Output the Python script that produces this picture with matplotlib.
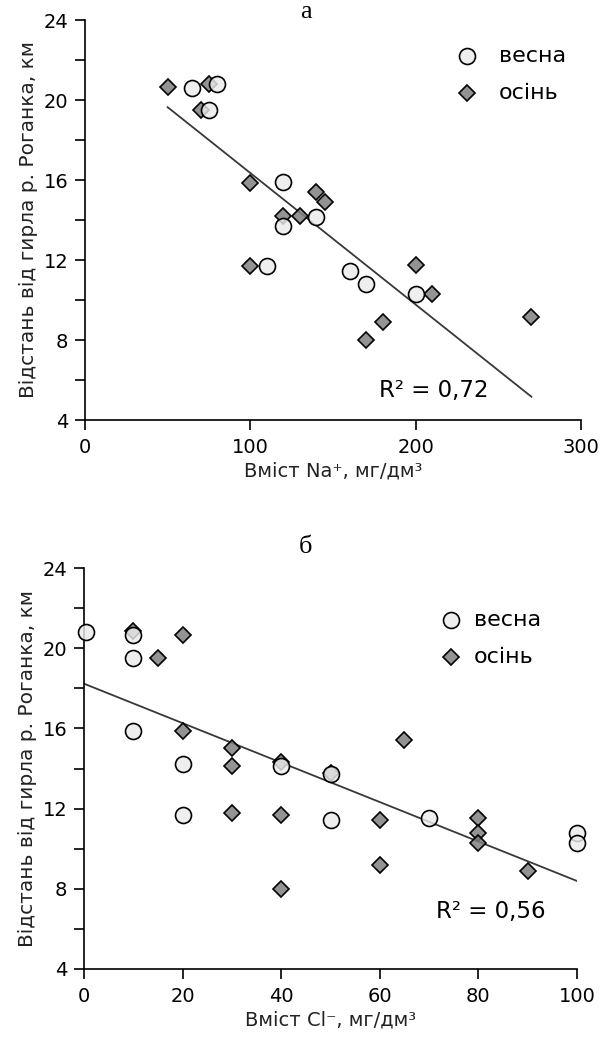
import matplotlib
matplotlib.use("Agg")
import matplotlib.pyplot as plt
from matplotlib.ticker import MultipleLocator

plt.rcParams['font.family'] = ['DejaVu Sans']

# Panel a: Na+
na_spring_x = [65, 80, 75, 120, 120, 140, 110, 160, 170, 200]
na_spring_y = [20.6, 20.8, 19.5, 15.9, 13.7, 14.15, 11.7, 11.45, 10.8, 10.3]
na_autumn_x = [50, 75, 70, 100, 120, 130, 140, 145, 100, 200, 210, 180, 170, 270]
na_autumn_y = [20.65, 20.8, 19.5, 15.85, 14.2, 14.2, 15.4, 14.9, 11.7, 11.75, 10.3, 8.9, 8.0, 9.15]
na_fit = (-0.0658, 22.93)   # slope, intercept
na_fit_range = (50, 270)
na_r2 = "R² = 0,72"

# Panel b: Cl-
cl_spring_x = [0.5, 10, 10, 10, 20, 20, 40, 50, 50, 70, 100, 100]
cl_spring_y = [20.8, 20.64, 19.5, 15.88, 14.2, 11.69, 14.13, 13.72, 11.44, 11.52, 10.77, 10.27]
cl_autumn_x = [10, 15, 20, 20, 30, 30, 30, 40, 40, 40, 50, 60, 60, 65, 80, 80, 80, 90]
cl_autumn_y = [20.84, 19.5, 20.64, 15.88, 15.0, 14.13, 11.8, 14.3, 11.69, 8.0, 13.8, 11.44, 9.2, 15.43, 11.52, 10.77, 10.27, 8.9]
cl_fit = (-0.0984, 18.23)
cl_fit_range = (0, 100)
cl_r2 = "R² = 0,56"

legend_labels = ["весна", "осінь"]
ylabel = "Відстань від гирла р. Роганка, км"

fig = plt.figure(figsize=(6, 10.41), dpi=100)
ax_a = fig.add_axes([85/600, 621/1041, 496/600, 400/1041])
ax_b = fig.add_axes([84/600, 72/1041, 493/600, 401/1041])

circ_face = (0.92, 0.92, 0.92, 0.82)
diam_face = (0.50, 0.50, 0.50, 0.85)

def draw(ax, sx, sy, axx, ayy, fit, frange, r2, r2pos, xlim, xmajor, xlabel, title, tpos, leg_pos):
    ax.plot(axx, ayy, linestyle='none', marker='D', markersize=8.6,
            markerfacecolor=diam_face, markeredgecolor='black', markeredgewidth=1.2,
            clip_on=False, zorder=3)
    ax.plot(sx, sy, linestyle='none', marker='o', markersize=11.5,
            markerfacecolor=circ_face, markeredgecolor='black', markeredgewidth=1.2,
            clip_on=False, zorder=4)
    m, b = fit
    xs = [frange[0], frange[1]]
    ax.plot(xs, [m*x + b for x in xs], color='#383838', linewidth=1.3, zorder=2)
    ax.set_xlim(*xlim)
    ax.set_ylim(4, 24)
    ax.xaxis.set_major_locator(MultipleLocator(xmajor))
    ax.yaxis.set_major_locator(MultipleLocator(4))
    ax.yaxis.set_minor_locator(MultipleLocator(2))
    for s in ['top', 'right']:
        ax.spines[s].set_visible(False)
    for s in ['left', 'bottom']:
        ax.spines[s].set_linewidth(1.2)
    ax.tick_params(axis='x', which='major', direction='out', length=7, width=1.2,
                   labelsize=14, colors='black', pad=6)
    ax.tick_params(axis='y', which='major', direction='out', length=7, width=1.2,
                   labelsize=14, colors='black', pad=5)
    ax.tick_params(axis='y', which='minor', direction='out', length=7, width=1.2)
    ax.set_xlabel(xlabel, fontsize=14, color='#222222', labelpad=3)
    ax.set_ylabel(ylabel, fontsize=14.5, color='#222222', labelpad=4)
    ax.text(r2pos[0], r2pos[1], r2, fontsize=16.5, ha='left', va='center')
    fig.text(tpos[0], tpos[1], title, fontsize=19, family='Liberation Serif',
             ha='center', va='top')
    # legend
    lx, ly1, ly2, tx = leg_pos
    ax.plot([lx], [ly1], transform=ax.transAxes, marker='o', markersize=11.5,
            markerfacecolor=circ_face, markeredgecolor='black', markeredgewidth=1.2,
            linestyle='none', clip_on=False)
    ax.plot([lx], [ly2], transform=ax.transAxes, marker='D', markersize=8.6,
            markerfacecolor=diam_face, markeredgecolor='black', markeredgewidth=1.2,
            linestyle='none', clip_on=False)
    ax.text(tx, ly1, legend_labels[0], transform=ax.transAxes, fontsize=16, va='center')
    ax.text(tx, ly2, legend_labels[1], transform=ax.transAxes, fontsize=16, va='center')

draw(ax_a, na_spring_x, na_spring_y, na_autumn_x, na_autumn_y, na_fit, na_fit_range,
     na_r2, (178, 5.45), (0, 300), 100, "Вміст Na⁺, мг/дм³", "а",
     (306/600, 1 - 0.5/1041),
     ((467-85)/496, 1-(56-20)/400, 1-(93-20)/400, (499-85)/496))
draw(ax_b, cl_spring_x, cl_spring_y, cl_autumn_x, cl_autumn_y, cl_fit, cl_fit_range,
     cl_r2, (71.5, 6.85), (0, 100), 20, "Вміст Cl⁻, мг/дм³", "б",
     (306/600, 1 - 536/1041),
     ((451-84)/493, 1-(620-568)/401, 1-(657-568)/401, (474-84)/493))

fig.savefig("out.png", dpi=100)
